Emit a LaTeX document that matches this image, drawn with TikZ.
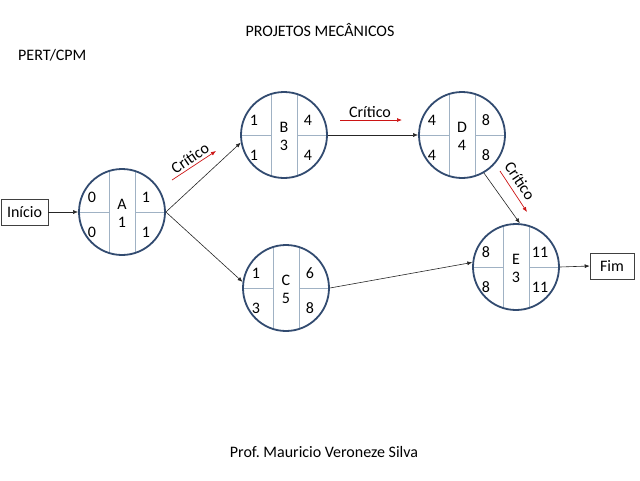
\documentclass[tikz,border=0pt]{standalone}
\usepackage{fontspec}
\setmainfont{Carlito}
\usetikzlibrary{arrows.meta}
\definecolor{ring}{RGB}{50,75,112}
\definecolor{gridc}{RGB}{160,178,196}
\definecolor{crit}{RGB}{204,20,20}
\newcommand\pertnode[8]{%
\begin{scope}[shift={(#2)}]
\draw[gridline] (-13,-41) -- (-13,41) (13,-41) -- (13,41) (-43,0) -- (-13,0) (13,0) -- (43,0);
\node[pert] (#1) at (0,0) {};
\node[cell] (#1-l) at (0,-8) {#3};
\node[cell] (#1-d) at (0,10) {#4};
\node[cell] (#1-es) at (-30,-15) {#5};
\node[cell] (#1-ef) at (24,-15) {#6};
\node[cell] (#1-ls) at (-30,20) {#7};
\node[cell] (#1-lf) at (24,20) {#8};
\end{scope}}
\begin{document}
\begin{tikzpicture}[x=1pt,y=-1pt,
  font=\fontsize{16}{18}\selectfont,
  pert/.style={circle,draw=ring,line width=1.8pt,minimum size=86pt,inner sep=0pt},
  gridline/.style={draw=gridc,line width=1pt},
  cell/.style={inner sep=0pt},
  conn/.style={draw=black!85,line width=0.6pt,-{Latex[length=5pt,width=4pt]}},
  critarrow/.style={draw=crit,line width=0.7pt,-{Latex[length=5pt,width=4pt]}},
  termbox/.style={draw=black!75,line width=0.6pt,minimum height=26pt,inner xsep=3pt},
  crittext/.style={inner sep=0pt}]
\useasboundingbox (0,0) rectangle (640,480);
\node (title) at (320,30) {PROJETOS MECÂNICOS};
\node[anchor=west,inner sep=0pt] (pert) at (18,55) {PERT/CPM};
\node (prof) at (324,452) {Prof.\ Mauricio Veroneze Silva};

\pertnode{A}{122,212}{A}{1}{0}{1}{0}{1}
\pertnode{B}{284,135}{B}{3}{1}{4}{1}{4}
\pertnode{D}{462,135}{D}{4}{4}{8}{4}{8}
\pertnode{C}{286,288}{C}{5}{1}{6}{3}{8}
\pertnode{E}{516,267}{E}{3}{8}{11}{8}{11}

\node[termbox,minimum width=47pt] (ini) at (24.5,212) {Início};
\node[termbox,minimum width=44pt] (fim) at (612,266) {Fim};

\draw[conn] (ini.east) -- (A.west);
\draw[conn] (A.east) -- (B.190);
\draw[conn] (A.east) -- (C.172);
\draw[conn] (B.east) -- (D.west);
\draw[conn] (D.-60) -- (E.85);
\draw[conn] (C.east) -- (E.174);
\draw[conn] (E.east) -- (fim.west);

\coordinate (c1s) at (172,180);
\coordinate (c1e) at (216,151);
\draw[critarrow] (c1s) -- (c1e);
\node[crittext,rotate=34] (t1) at (190,158) {Crítico};
\coordinate (c2s) at (340,120);
\coordinate (c2e) at (402,120);
\draw[critarrow] (c2s) -- (c2e);
\node[crittext] (t2) at (370,112) {Crítico};
\coordinate (c3s) at (500,171);
\coordinate (c3e) at (527,212);
\draw[critarrow] (c3s) -- (c3e);
\node[crittext,rotate=-56] (t3) at (520,181) {Crítico};
\end{tikzpicture}
\end{document}
